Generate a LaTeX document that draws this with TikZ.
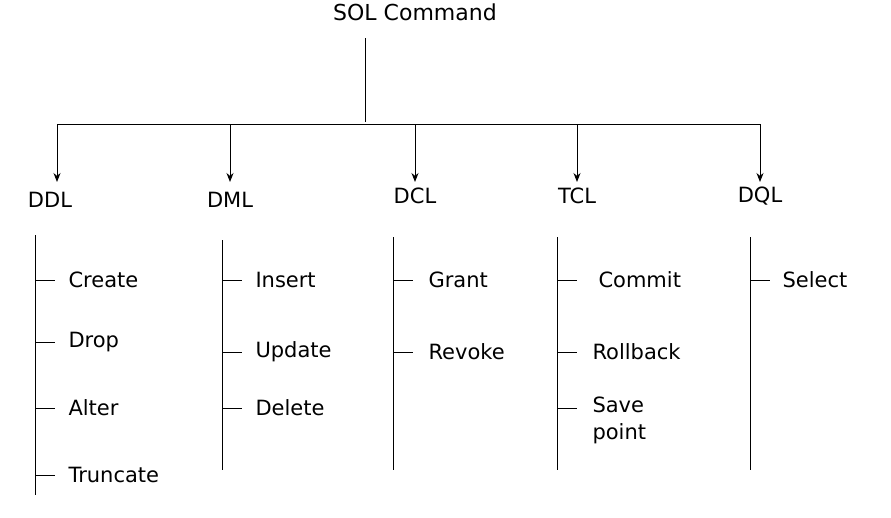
\documentclass[tikz,border=0pt]{standalone}
\usepackage{fontspec}
\setmainfont{DejaVu Sans}
\usetikzlibrary{arrows.meta}
\begin{document}
\begin{tikzpicture}[x=1pt,y=-1pt,line width=1pt,
  lbl/.style={font=\fontsize{21}{27}\selectfont,inner sep=0pt,anchor=west,align=left},
  arr/.style={-{Stealth[length=9pt,width=7pt]}}]
\useasboundingbox (0,0) rectangle (891,517);
\node[font=\fontsize{22}{26}\selectfont,inner sep=0pt] (root) at (415,12) {SOL Command};
\coordinate (r1) at (365,38);
\coordinate (r2) at (365,122);
\draw (r1) -- (r2);
\coordinate (hl) at (57,124); \coordinate (hr) at (760,124);
\draw (hl) -- (hr);
\foreach \x/\n/\lx/\ly in {57/DDL/50/200, 230/DML/230/200, 415/DCL/415/196, 577/TCL/577/196, 760/DQL/760/196}{
  \coordinate (t\n) at (\x,124);
  \coordinate (b\n) at (\x,182);
  \draw[arr] (t\n) -- (b\n);
  \node[font=\fontsize{21}{25}\selectfont,inner sep=0pt] (\n) at (\lx,\ly) {\n};
}
\foreach \x/\ya/\yb/\n in {35/235/495/A, 222/240/470/B, 393/237/470/C, 557/237/470/D, 750/237/470/E}{
  \coordinate (s\n) at (\x,\ya); \coordinate (e\n) at (\x,\yb);
  \draw (s\n) -- (e\n);
}
\foreach \x/\y/\tx/\t/\m in {35/280/68/Create/a1, 35/342/68/Drop/a2, 35/408/68/Alter/a3, 35/475/68/Truncate/a4,
  222/280/255/Insert/b1, 222/352/255/Update/b2, 222/408/255/Delete/b3,
  393/280/428/Grant/c1, 393/352/428/Revoke/c2,
  557/280/598/Commit/d1, 557/352/592/Rollback/d2,
  750/280/782/Select/e1}{
  \coordinate (k\m) at (\x,\y); \coordinate (l\m) at (\x+20,\y);
  \draw (k\m) -- (l\m);
  \node[lbl] (n\m) at (\tx,\y) {\t};
}
\coordinate (kd3) at (557,408); \coordinate (ld3) at (577,408);
\draw (kd3) -- (ld3);
\node[lbl,anchor=north west] (nd3) at (592,396) {Save\\point};
\end{tikzpicture}
\end{document}
